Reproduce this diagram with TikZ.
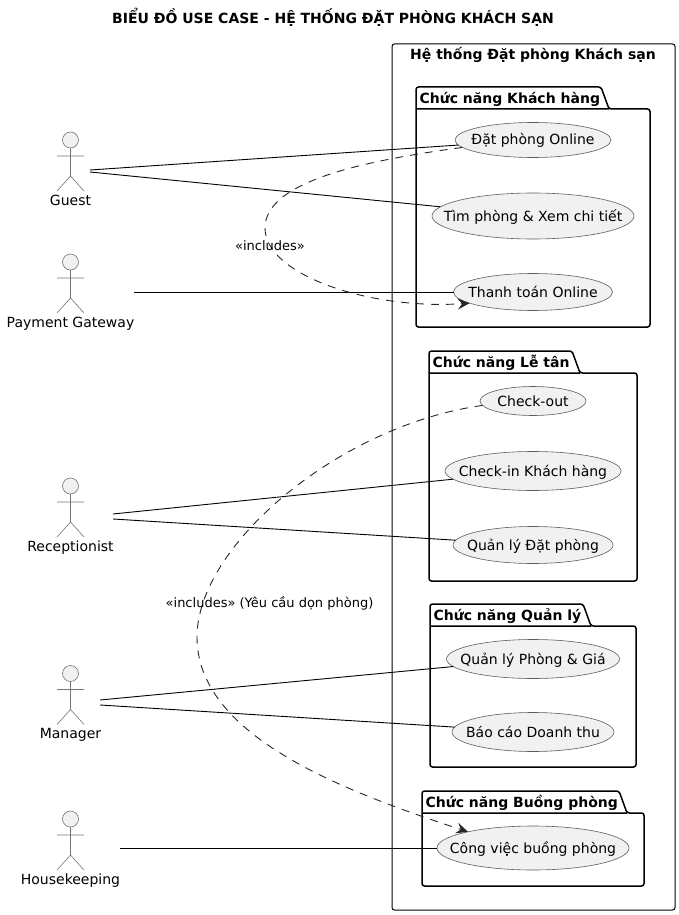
\documentclass[tikz,border=0pt]{standalone}
\usepackage{fontspec}
\setmainfont{DejaVu Sans}
\usetikzlibrary{shapes.geometric,arrows.meta}
\definecolor{ucfill}{HTML}{F1F1F1}
\definecolor{ucline}{HTML}{181818}
\tikzset{
    usecase/.style={draw=ucline!70, fill=ucfill, ellipse, line width=0.6pt, inner xsep=-20pt, inner ysep=0pt, outer sep=0pt, text height=12pt, text depth=2pt, font=\fontsize{14}{16}\selectfont},
    actorline/.style={draw=ucline!60, line width=0.6pt},
    actorname/.style={anchor=base, font=\fontsize{14}{16}\selectfont},
    actor/.pic={
        \node [circle, draw=ucline!60, fill=ucfill, line width=0.6pt, minimum size=16pt, inner sep=0pt] (-head) at (0,0) {};
        \draw [actorline] (0,8) -- (0,36) (-13.5,16) -- (13.5,16) (-13.5,51) -- (0,36) -- (13.5,51);
    },
    pkg/.style={draw, line width=1.5pt, rounded corners=2.5pt},
    pkgname/.style={anchor=west, font=\bfseries\fontsize{14}{16}\selectfont},
    assoc/.style={draw, line width=0.9pt},
    incl/.style={-{Stealth[length=12pt,width=11pt,inset=4.5pt]}, dashed, dash pattern=on 8pt off 7pt, line width=0.9pt, draw=black!85},
    linklabel/.style={font=\fontsize{13}{15}\selectfont}
}

\begin{document}
\begin{tikzpicture}[x=1pt, y=-1pt]
        \useasboundingbox (0,0) rectangle (679,915);

        % Title
        \node [font=\bfseries\fontsize{14}{16}\selectfont] (title) at (333,17) {BIỂU ĐỒ USE CASE - HỆ THỐNG ĐẶT PHÒNG KHÁCH SẠN};

        % The system box
        \draw [line width=1pt, rounded corners=2.5pt] (392,44) rectangle (675,910);
        \node [font=\bfseries\fontsize{14}{16}\selectfont] (sysname) at (533,55) {Hệ thống Đặt phòng Khách sạn};

        % Packages
        \draw [pkg] (416,109) -- (416,87) -- (601,87) -- (609,109) -- (650,109) -- (650,327) -- (416,327) -- cycle (416,109) -- (609,109);
        \node [pkgname] (pkgguest) at (416,99) {Chức năng Khách hàng};
        \draw [pkg] (429,373) -- (429,351) -- (572,351) -- (580,373) -- (637,373) -- (637,581) -- (429,581) -- cycle (429,373) -- (580,373);
        \node [pkgname] (pkgrecep) at (429,363) {Chức năng Lễ tân};
        \draw [pkg] (430,626) -- (430,604) -- (583,604) -- (591,626) -- (636,626) -- (636,767) -- (430,767) -- cycle (430,626) -- (591,626);
        \node [pkgname] (pkgmanage) at (430,616) {Chức năng Quản lý};
        \draw [pkg] (422,813) -- (422,791) -- (619,791) -- (627,813) -- (644,813) -- (644,886) -- (422,886) -- cycle (422,813) -- (627,813);
        \node [pkgname] (pkgclean) at (422,803) {Chức năng Buồng phòng};

        % Use cases
        \node [usecase, minimum width=156pt, minimum height=35pt] (datphong) at (533,140) {Đặt phòng Online};
        \node [usecase, minimum width=202pt, minimum height=46pt] (timphong) at (533,216) {Tìm phòng \& Xem chi tiết};
        \node [usecase, minimum width=159pt, minimum height=37pt] (thanhtoan) at (533,292) {Thanh toán Online};
        \node [usecase, minimum width=106pt, minimum height=29pt] (checkout) at (533,401) {Check-out};
        \node [usecase, minimum width=176pt, minimum height=39pt] (checkin) at (533,471) {Check-in Khách hàng};
        \node [usecase, minimum width=160pt, minimum height=37pt] (qldatphong) at (533,545) {Quản lý Đặt phòng};
        \node [usecase, minimum width=173pt, minimum height=39pt] (qlphong) at (533,659) {Quản lý Phòng \& Giá};
        \node [usecase, minimum width=162pt, minimum height=39pt] (baocao) at (533,732) {Báo cáo Doanh thu};
        \node [usecase, minimum width=192pt, minimum height=44pt] (congviec) at (533,848) {Công việc buồng phòng};

        % Actors
        \pic (guest) at (70.5,140) {actor};
        \node [actorname] (guestname) at (70.5,205) {Guest};
        \pic (gateway) at (70.5,262) {actor};
        \node [actorname] (gatewayname) at (70.5,327) {Payment Gateway};
        \pic (recep) at (70.5,486) {actor};
        \node [actorname] (recepname) at (70.5,551) {Receptionist};
        \pic (manager) at (70.5,673.5) {actor};
        \node [actorname] (managername) at (70.5,738) {Manager};
        \pic (clean) at (70.5,819) {actor};
        \node [actorname] (cleanname) at (70.5,884) {Housekeeping};

        % Free ends beside the actors
        \coordinate (guestA) at (90,170);
        \coordinate (guestB) at (90,172);
        \coordinate (gatewayA) at (134,292);
        \coordinate (recepA) at (113,514);
        \coordinate (recepB) at (113,519);
        \coordinate (managerA) at (100,700);
        \coordinate (managerB) at (100,705);
        \coordinate (cleanA) at (120,848);

        % Associations
        \draw [assoc] (guestA) -- (datphong);
        \draw [assoc] (guestB) -- (timphong);
        \draw [assoc] (gatewayA) -- (thanhtoan);
        \draw [assoc] (recepA) -- (checkin);
        \draw [assoc] (recepB) -- (qldatphong);
        \draw [assoc] (managerA) -- (qlphong);
        \draw [assoc] (managerB) -- (baocao);
        \draw [assoc] (cleanA) -- (congviec);

        % Includes
        \draw [incl] (datphong.186) .. controls (370,160) and (265,180) .. (265,228) .. controls (265,275) and (370,310) .. (thanhtoan.190);
        \node [linklabel] (inclpay) at (270,246) {«includes»};
        \draw [incl] (checkout.185) .. controls (340,425) and (197,545) .. (197,637) .. controls (197,735) and (340,790) .. (congviec.166);
        \node [linklabel] (inclclean) at (269.5,603) {«includes» (Yêu cầu dọn phòng)};
    \end{tikzpicture}
\end{document}
